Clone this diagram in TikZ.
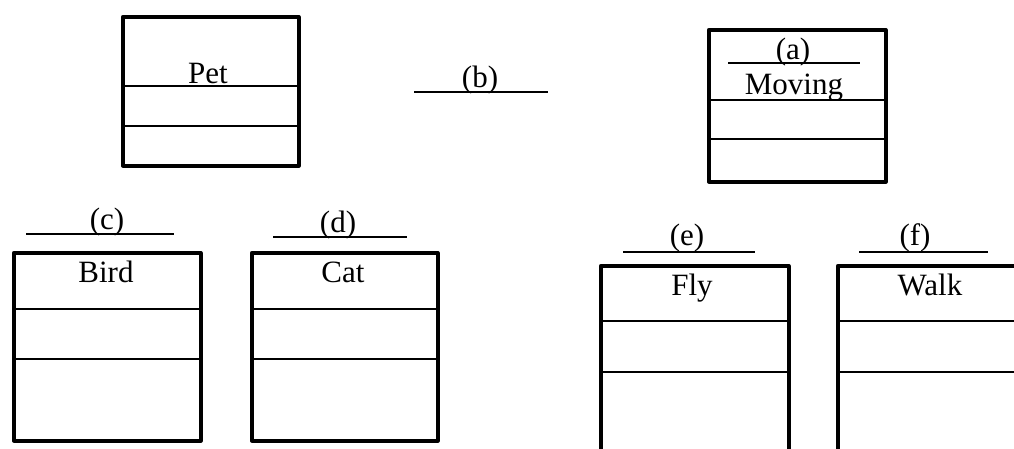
\documentclass[tikz,border=0pt]{standalone}
\usepackage{fontspec}
\setmainfont{Liberation Serif}
\usetikzlibrary{positioning}
\tikzset{
    %Define style for class boxes
    klasse/.style={
           rectangle,
           draw=black, line width=3.5pt,
           line join=round,
           anchor=north west,
           inner sep=0pt},
    % Define style for compartment lines
    teil/.style={
           line width=2.4pt},
    % Define style for blanks to fill in
    luecke/.style={
           line width=2pt},
    % Define style for texts
    schrift/.style={
           anchor=base,
           inner sep=0pt,
           font=\fontsize{31pt}{36pt}\selectfont}
}

\begin{document}
\begin{tikzpicture}[x=1pt,y=-1pt]
\useasboundingbox (0,0) rectangle (1014,448);
\clip (0,0) rectangle (1014,448);

% Class boxes
\node[klasse, minimum width=176pt, minimum height=149pt] (pet) at (121,15) {};
\node[klasse, minimum width=177pt, minimum height=152pt] (moving) at (707,28) {};
\node[klasse, minimum width=187pt, minimum height=188pt] (bird) at (12,251) {};
\node[klasse, minimum width=186pt, minimum height=188pt] (cat) at (250,251) {};
\node[klasse, minimum width=188pt, minimum height=220pt] (fly) at (599,264) {};
\node[klasse, minimum width=200pt, minimum height=220pt] (walk) at (836,264) {};

% Compartments
\foreach \k/\a/\b in {pet/71/111, moving/72/111, bird/58/108, cat/58/108, fly/57/108, walk/57/108}{
  \draw[teil] ([yshift=-\a pt]\k.north west) -- ([yshift=-\a pt]\k.north east);
  \draw[teil] ([yshift=-\b pt]\k.north west) -- ([yshift=-\b pt]\k.north east);
}

% Class names
\node[schrift] (petname) at (208,83) {Pet};
\node[schrift] (movingname) at (794,94) {Moving};
\node[schrift] (birdname) at (106,282) {Bird};
\node[schrift] (catname) at (343,282) {Cat};
\node[schrift] (flyname) at (692,295) {Fly};
\node[schrift] (walkname) at (930,295) {Walk};

% Blanks
\coordinate (a1) at (728,63);  \coordinate (a2) at (860,63);
\coordinate (b1) at (414,92);  \coordinate (b2) at (548,92);
\coordinate (c1) at (26,234);  \coordinate (c2) at (174,234);
\coordinate (d1) at (273,237); \coordinate (d2) at (407,237);
\coordinate (e1) at (623,252); \coordinate (e2) at (755,252);
\coordinate (f1) at (859,252); \coordinate (f2) at (988,252);
\draw[luecke] (a1) -- (a2);
\draw[luecke] (b1) -- (b2);
\draw[luecke] (c1) -- (c2);
\draw[luecke] (d1) -- (d2);
\draw[luecke] (e1) -- (e2);
\draw[luecke] (f1) -- (f2);

\node[schrift] (atag) at (793,59) {(a)};
\node[schrift] (btag) at (480,87) {(b)};
\node[schrift] (ctag) at (107,229) {(c)};
\node[schrift] (dtag) at (338,232) {(d)};
\node[schrift] (etag) at (687,245) {(e)};
\node[schrift] (ftag) at (915,245) {(f)};

\end{tikzpicture}
\end{document}
